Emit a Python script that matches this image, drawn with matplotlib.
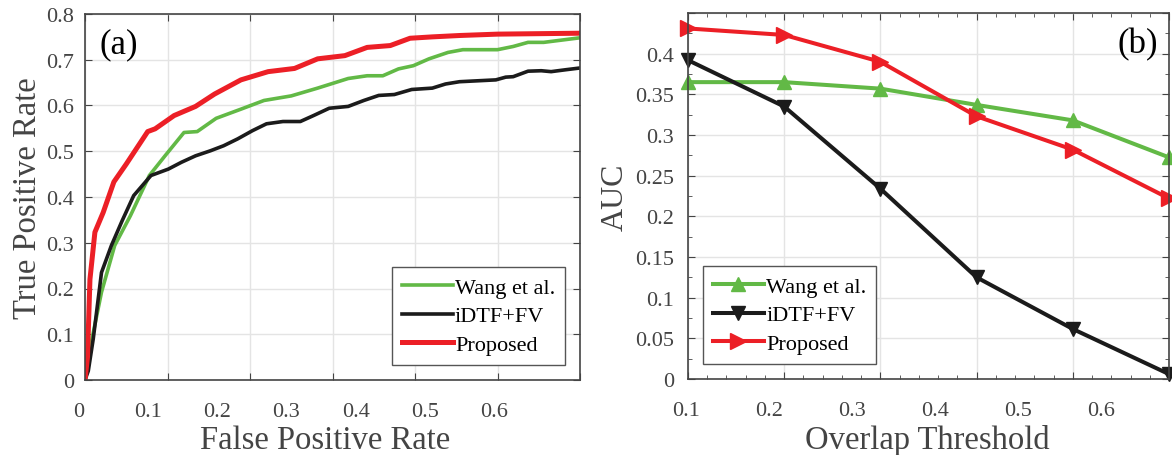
import numpy as np
import matplotlib
matplotlib.use("Agg")
import matplotlib.pyplot as plt
from matplotlib.ticker import MultipleLocator

plt.rcParams['font.family'] = ['Liberation Serif', 'DejaVu Serif']

# (a) ROC curves, x given in plot-grid units (grid drawn every 0.1)
fpr_wang = [0.0, 0.004, 0.02, 0.036, 0.055, 0.078, 0.097, 0.12, 0.136, 0.159, 0.189, 0.217, 0.25,
            0.282, 0.319, 0.342, 0.361, 0.38, 0.398, 0.417, 0.44, 0.458, 0.5, 0.519, 0.537,
            0.556, 0.6]
tpr_wang = [0.0, 0.05, 0.192, 0.294, 0.359, 0.447, 0.49, 0.541, 0.543, 0.572, 0.592, 0.611, 0.621,
            0.638, 0.659, 0.665, 0.665, 0.68, 0.687, 0.702, 0.716, 0.722, 0.722, 0.729, 0.738,
            0.738, 0.748]

fpr_idtf = [0.0, 0.004, 0.01, 0.02, 0.032, 0.045, 0.059, 0.08, 0.101, 0.117, 0.134, 0.152, 0.168,
            0.185, 0.203, 0.22, 0.24, 0.261, 0.277, 0.296, 0.319, 0.338, 0.356, 0.375, 0.396,
            0.421, 0.437, 0.454, 0.498, 0.51, 0.519, 0.537, 0.553, 0.565, 0.582, 0.6]
tpr_idtf = [0.0, 0.02, 0.09, 0.235, 0.294, 0.348, 0.403, 0.447, 0.461, 0.476, 0.49, 0.501, 0.512,
            0.527, 0.545, 0.56, 0.565, 0.565, 0.578, 0.594, 0.598, 0.611, 0.622, 0.624, 0.635,
            0.638, 0.647, 0.652, 0.656, 0.662, 0.663, 0.675, 0.676, 0.674, 0.678, 0.682]

fpr_prop = [0.0, 0.003, 0.006, 0.012, 0.022, 0.035, 0.05, 0.076, 0.085, 0.108, 0.134, 0.157, 0.189,
            0.222, 0.254, 0.282, 0.315, 0.342, 0.37, 0.394, 0.421, 0.454, 0.5, 0.6]
tpr_prop = [0.0, 0.05, 0.22, 0.323, 0.366, 0.433, 0.472, 0.543, 0.549, 0.578, 0.598, 0.625, 0.656,
            0.674, 0.681, 0.702, 0.709, 0.727, 0.731, 0.747, 0.75, 0.753, 0.756, 0.758]
fpr_ticklabels = ["0", "0.1", "0.2", "0.3", "0.4", "0.5", "0.6"]

# (b) AUC vs overlap threshold
thresholds = [0.1, 0.2, 0.3, 0.4, 0.5, 0.6]
auc_wang = [0.365, 0.365, 0.357, 0.337, 0.318, 0.2725]
auc_idtf = [0.392, 0.335, 0.234, 0.125, 0.0615, 0.006]
auc_prop = [0.431, 0.423, 0.390, 0.323, 0.282, 0.222]
thr_ticklabels = ["0.1", "0.2", "0.3", "0.4", "0.5", "0.6"]

labels = ["Wang et al.", "iDTF+FV", "Proposed"]
green = "#62b946"
black = "#1b1b1b"
red = "#ec1f26"
grey = "#444444"

W, H = 1172, 456
fig = plt.figure(figsize=(W / 100, H / 100), dpi=100)


def px_axes(x0, x1, y0, y1, **kw):
    # axes placed by pixel box (top-left origin)
    return fig.add_axes([x0 / W, 1 - y1 / H, (x1 - x0) / W, (y1 - y0) / H], **kw)


ax1 = px_axes(85, 580, 15, 381)
ax2 = px_axes(688, 1169, 14, 380)

# tick labels in the reference sit on their own (shifted) scale: separate label axes
lab1 = px_axes(60, 580, 15, 381, zorder=-1)
lab1.set_xlim((60 - 78.5) / 692.7, (580 - 78.5) / 692.7)
lab2 = px_axes(660, 1169, 14, 380, zorder=-1)
lab2.set_xlim(0.1 + (660 - 685.7) / 830, 0.1 + (1169 - 685.7) / 830)

# ---- panel (a)
ax1.plot(fpr_wang, tpr_wang, color=green, lw=2.6, label=labels[0], solid_joinstyle="round")
ax1.plot(fpr_idtf, tpr_idtf, color=black, lw=2.6, label=labels[1], solid_joinstyle="round")
ax1.plot(fpr_prop, tpr_prop, color=red, lw=3.6, label=labels[2], solid_joinstyle="round")
ax1.set_xlim(0, 0.6)
ax1.set_ylim(0, 0.8)
ax1.xaxis.set_major_locator(MultipleLocator(0.1))
ax1.set_yticks(np.arange(0, 0.81, 0.1))
ax1.set_yticklabels(["0"] + ["%.1f" % v for v in np.arange(0.1, 0.81, 0.1)])
ax1.grid(True, color="#e4e4e4", lw=1)
ax1.tick_params(axis="both", direction="in", top=True, right=True, length=5, color=grey,
                labelbottom=False, labelsize=16, labelcolor=grey, pad=8)
ax1.set_ylabel("True Positive Rate", fontsize=23.5, color=grey, labelpad=2)
ax1.text(0.03, 0.918, "(a)", transform=ax1.transAxes, fontsize=25, va="center", ha="left")
leg1 = ax1.legend(loc="lower right", bbox_to_anchor=(0.97, 0.041), fontsize=16,
                  handlelength=2.3, handletextpad=0.1, borderaxespad=0, fancybox=False,
                  framealpha=1, edgecolor="#555555", labelspacing=0.36, borderpad=0.45)
leg1.get_frame().set_linewidth(1)

# ---- panel (b)
ax2.plot(thresholds, auc_wang, color=green, lw=2.9, marker="^", ms=10, label=labels[0], clip_on=False)
ax2.plot(thresholds, auc_idtf, color=black, lw=2.9, marker="v", ms=10, label=labels[1], clip_on=False)
ax2.plot(thresholds, auc_prop, color=red, lw=2.9, marker=">", ms=11, label=labels[2], clip_on=False)
ax2.set_xlim(0.1, 0.6)
ax2.set_ylim(0, 0.45)
ax2.xaxis.set_major_locator(MultipleLocator(0.1))
ax2.xaxis.set_minor_locator(MultipleLocator(0.02))
ax2.set_yticks(np.arange(0, 0.451, 0.05))
ax2.set_yticklabels(["0"] + ["%g" % round(v, 2) for v in np.arange(0.05, 0.41, 0.05)] + [""])
ax2.yaxis.set_minor_locator(MultipleLocator(0.025))
ax2.grid(True, which="major", color="#e4e4e4", lw=1)
ax2.tick_params(axis="both", which="both", direction="in", top=True, right=True, color=grey)
ax2.tick_params(axis="both", which="major", length=5, labelbottom=False, labelsize=16,
                labelcolor=grey, pad=10)
ax2.tick_params(axis="both", which="minor", length=3)
ax2.set_ylabel("AUC", fontsize=23, color=grey, labelpad=4)
ax2.text(0.977, 0.915, "(b)", transform=ax2.transAxes, fontsize=25, va="center", ha="right")
leg2 = ax2.legend(loc="lower left", bbox_to_anchor=(0.031, 0.041), fontsize=16,
                  handlelength=2.3, handletextpad=0.1, borderaxespad=0, fancybox=False,
                  framealpha=1, edgecolor="#555555", labelspacing=0.36, borderpad=0.45)
leg2.get_frame().set_linewidth(1)

# ---- x tick labels and x labels on the label axes
for lab, vals, names, xl, xc in (
        (lab1, [0, 0.1, 0.2, 0.3, 0.4, 0.5, 0.6], fpr_ticklabels, "False Positive Rate", 325),
        (lab2, thresholds, thr_ticklabels, "Overlap Threshold", 927)):
    lab.patch.set_visible(False)
    for s in lab.spines.values():
        s.set_visible(False)
    lab.set_yticks([])
    lab.set_xticks(vals)
    lab.set_xticklabels(names)
    lab.tick_params(axis="x", length=0, labelsize=16, labelcolor=grey, pad=16)
    # axis title sits right at the bottom edge, as in the reference
    fig.text(xc / W, 1 - 449 / H, xl, fontsize=23.5, color=grey, ha="center", va="baseline")

for ax in (ax1, ax2):
    for s in ax.spines.values():
        s.set_color(grey)
        s.set_linewidth(1.2)

fig.savefig("out.png", dpi=100)
